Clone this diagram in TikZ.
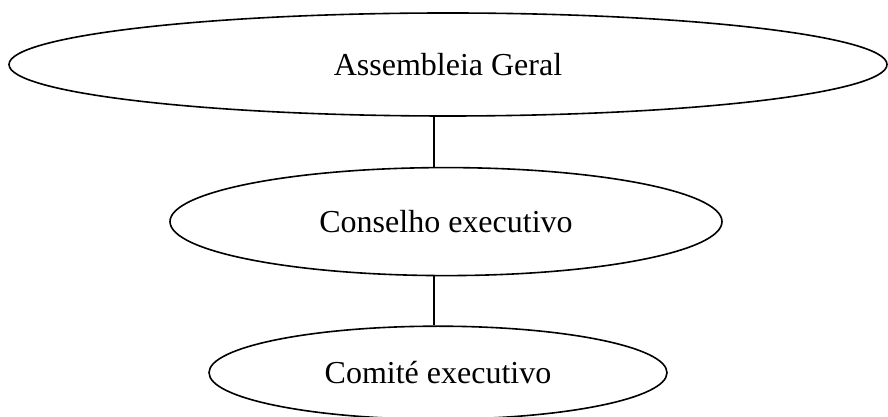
\documentclass[tikz,border=0pt]{standalone}
\usepackage{fontspec}
\setmainfont{Liberation Serif}
\usetikzlibrary{shapes.geometric,positioning}

\begin{document}
\begin{tikzpicture}[
    x=1pt, y=1pt,
    oval/.style={draw, ellipse, line width=1.6pt, inner sep=0pt, font=\fontsize{32}{38}\selectfont},
    link/.style={line width=1.3pt}
]
\useasboundingbox (0,0) rectangle (888,417);
\node[oval, minimum width=878pt, minimum height=103pt] (assembleia) at (448,352.5) {Assembleia Geral};
\node[oval, minimum width=552pt, minimum height=108pt, below=50pt of assembleia, xshift=-2pt] (conselho) {Conselho executivo};
\node[oval, minimum width=458pt, minimum height=93pt, below=49pt of conselho, xshift=-8pt] (comite) {Comité executivo};
\draw[link] ([xshift=-14pt]assembleia.south) -- ([xshift=-12pt]conselho.north);
\draw[link] ([xshift=-12pt]conselho.south) -- ([xshift=-4pt]comite.north);
\end{tikzpicture}
\end{document}
